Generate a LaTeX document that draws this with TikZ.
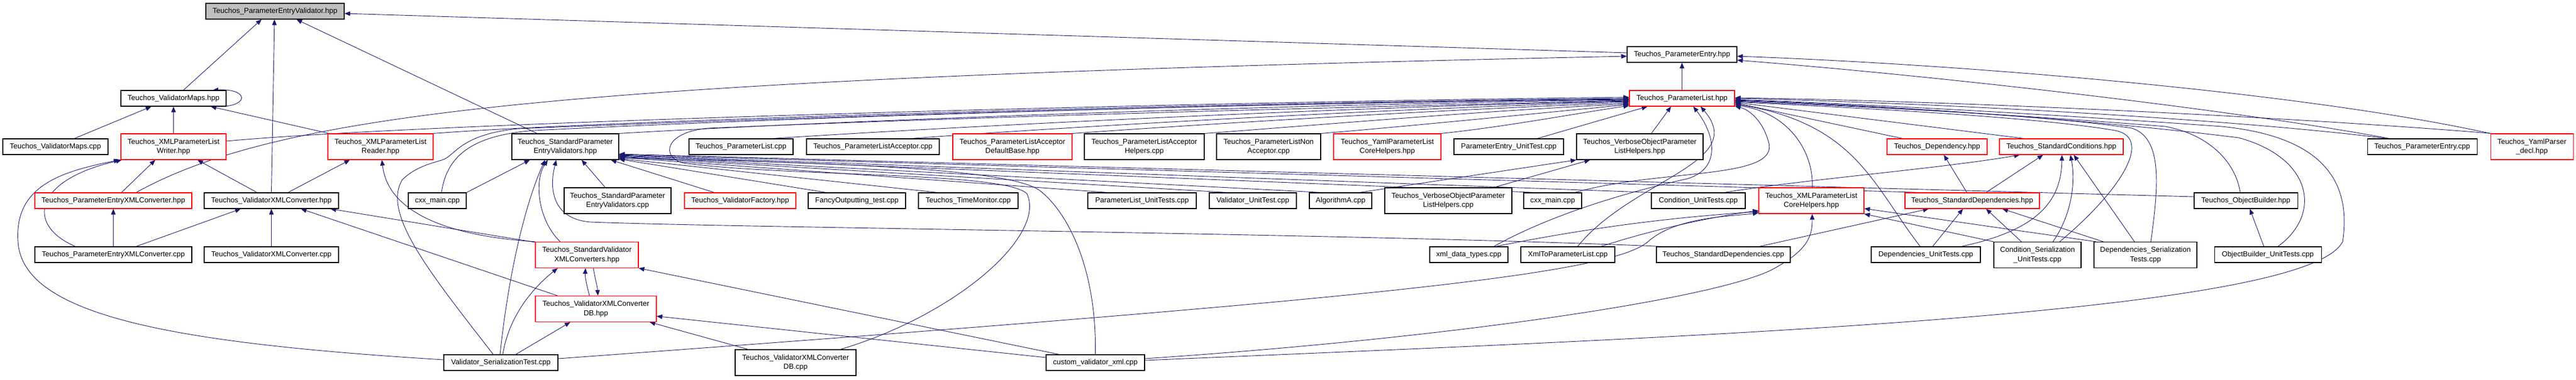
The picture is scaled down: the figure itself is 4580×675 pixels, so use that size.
\documentclass[tikz,border=0pt]{standalone}
\usepackage{fontspec}
\setmainfont{Liberation Sans}
\usetikzlibrary{arrows.meta}
\definecolor{edgecol}{HTML}{191970}
\definecolor{boxgrey}{HTML}{BFBFBF}
\pgfdeclarelayer{bg}
\pgfsetlayers{bg,main}
\begin{document}
\begin{tikzpicture}[x=1pt,y=-1pt,
  box/.style={draw=black, line width=1.1pt, fill=white, inner sep=0pt, align=center,
    font=\fontsize{13}{16.7}\selectfont, text=black},
  rbox/.style={box, draw=red},
  hone/.style={minimum height=28pt},
  htwo/.style={minimum height=46pt},
  wd/.style={minimum width=#1pt},
  dep/.style={draw=edgecol, line width=0.9pt, -{Triangle[length=10pt,width=8pt]}}]
\useasboundingbox (0,0) rectangle (4580,675);
% rank 0-2
\node[box, fill=boxgrey, wd=246, hone] (PEV) at (489,20) {Teuchos\_ParameterEntryValidator.hpp};
\node[box, wd=195, hone] (PEh) at (2990.5,97) {Teuchos\_ParameterEntry.hpp};
\node[box, wd=187, hone] (VMaps) at (308.5,175) {Teuchos\_ValidatorMaps.hpp};
\node[rbox, wd=187, hone] (PLh) at (2990.5,175) {Teuchos\_ParameterList.hpp};
% rank 3
\node[box, wd=187, hone] (VMcpp) at (98.5,261) {Teuchos\_ValidatorMaps.cpp};
\node[rbox, wd=187, htwo] (XWriter) at (308.5,261) {Teuchos\_XMLParameterList\\Writer.hpp};
\node[rbox, wd=187, htwo] (XReader) at (676.5,261) {Teuchos\_XMLParameterList\\Reader.hpp};
\node[box, wd=190, htwo] (SPEVh) at (1005,261) {Teuchos\_StandardParameter\\EntryValidators.hpp};
\node[box, wd=185, hone] (PLcpp) at (1317.5,261) {Teuchos\_ParameterList.cpp};
\node[box, wd=236, hone] (PLAcpp) at (1552,261) {Teuchos\_ParameterListAcceptor.cpp};
\node[rbox, wd=212, htwo] (PLADB) at (1800,261) {Teuchos\_ParameterListAcceptor\\DefaultBase.hpp};
\node[box, wd=213, htwo] (PLAH) at (2034.5,261) {Teuchos\_ParameterListAcceptor\\Helpers.cpp};
\node[box, wd=185, htwo] (PLNA) at (2255.5,261) {Teuchos\_ParameterListNon\\Acceptor.cpp};
\node[rbox, wd=191, htwo] (YPLCH) at (2466.5,261) {Teuchos\_YamlParameterList\\CoreHelpers.hpp};
\node[box, wd=195, hone] (PEUnit) at (2682.5,261) {ParameterEntry\_UnitTest.cpp};
\node[box, wd=225, htwo] (VOPLHh) at (2915.5,261) {Teuchos\_VerboseObjectParameter\\ListHelpers.hpp};
\node[rbox, wd=178, hone] (Dep) at (3444,261) {Teuchos\_Dependency.hpp};
\node[rbox, wd=220, hone] (StdCond) at (3665,261) {Teuchos\_StandardConditions.hpp};
\node[box, wd=195, hone] (PEcpp) at (4306.5,261) {Teuchos\_ParameterEntry.cpp};
\node[rbox, wd=147, htwo] (Yaml) at (4501.5,261) {Teuchos\_YamlParser\\\_decl.hpp};
% rank 4
\node[rbox, wd=279, hone] (PEXCh) at (201.5,357) {Teuchos\_ParameterEntryXMLConverter.hpp};
\node[box, wd=239, hone] (VXCh) at (482.5,357) {Teuchos\_ValidatorXMLConverter.hpp};
\node[box, wd=103, hone] (cxxA) at (777.5,357) {cxx\_main.cpp};
\node[box, wd=190, htwo] (SPEVcpp) at (1098,357) {Teuchos\_StandardParameter\\EntryValidators.cpp};
\node[rbox, wd=198, hone] (ValFac) at (1316,357) {Teuchos\_ValidatorFactory.hpp};
\node[box, wd=173, hone] (Fancy) at (1523.5,357) {FancyOutputting\_test.cpp};
\node[box, wd=177, hone] (TimeMon) at (1721.5,357) {Teuchos\_TimeMonitor.cpp};
\node[box, wd=193, hone] (PLUnit) at (2030.5,357) {ParameterList\_UnitTests.cpp};
\node[box, wd=155, hone] (ValUnit) at (2227.5,357) {Validator\_UnitTest.cpp};
\node[box, wd=111, hone] (AlgA) at (2383.5,357) {AlgorithmA.cpp};
\node[box, wd=226, htwo] (VOPLHcpp) at (2575,357) {Teuchos\_VerboseObjectParameter\\ListHelpers.cpp};
\node[box, wd=103, hone] (cxxB) at (2760.5,357) {cxx\_main.cpp};
\node[box, wd=167, hone] (CondUnit) at (3019.5,357) {Condition\_UnitTests.cpp};
\node[rbox, wd=187, htwo] (XMLPLCH) at (3220.5,357) {Teuchos\_XMLParameterList\\CoreHelpers.hpp};
\node[rbox, wd=239, hone] (StdDepsh) at (3506.5,357) {Teuchos\_StandardDependencies.hpp};
\node[box, wd=184, hone] (ObjBh) at (3993,357) {Teuchos\_ObjectBuilder.hpp};
% rank 5
\node[box, wd=279, hone] (PEXCcpp) at (201.5,453) {Teuchos\_ParameterEntryXMLConverter.cpp};
\node[box, wd=239, hone] (VXCcpp) at (482.5,453) {Teuchos\_ValidatorXMLConverter.cpp};
\node[rbox, wd=183, htwo] (SVXCh) at (1043.5,453.5) {Teuchos\_StandardValidator\\XMLConverters.hpp};
\node[box, wd=139, hone] (xmldt) at (2611.5,453) {xml\_data\_types.cpp};
\node[box, wd=167, hone] (XmlToPL) at (2787.5,453) {XmlToParameterList.cpp};
\node[box, wd=238, hone] (StdDepscpp) at (3064,453) {Teuchos\_StandardDependencies.cpp};
\node[box, wd=194, hone] (DepUnit) at (3424,453) {Dependencies\_UnitTests.cpp};
\node[box, wd=155, htwo] (CondSer) at (3622.5,453.5) {Condition\_Serialization\\\_UnitTests.cpp};
\node[box, wd=183, htwo] (DepSer) at (3814.5,453.5) {Dependencies\_Serialization\\Tests.cpp};
\node[box, wd=190, hone] (ObjBUnit) at (4032,453) {ObjectBuilder\_UnitTests.cpp};
% rank 6-7
\node[rbox, wd=215, htwo] (VXCDBh) at (1059.5,549.5) {Teuchos\_ValidatorXMLConverter\\DB.hpp};
\node[box, wd=203, hone] (VSerTest) at (890.5,645) {Validator\_SerializationTest.cpp};
\node[box, wd=215, htwo] (VXCDBcpp) at (1414.5,645) {Teuchos\_ValidatorXMLConverter\\DB.cpp};
\node[box, wd=175, hone] (custom) at (1947.5,645) {custom\_validator\_xml.cpp};

\begin{pgfonlayer}{bg}
\fill[white] (0,0) rectangle (4580,675);
% to PEV
\draw[dep] ([xshift=17.5pt]VMaps.north) -- ([xshift=-24pt]PEV.south);
\draw[dep] (VXCh.north) -- ([xshift=-1pt]PEV.south);
\draw[dep] ([xshift=-50pt]SPEVh.north) -- ([xshift=38pt]PEV.south);
\draw[dep] ([yshift=3pt]PEh.west) -- ([yshift=-4pt]PEV.east);
% to VMaps
\draw[dep] ([xshift=69.5pt]VMaps.south) .. controls (445,193) and (445,157) .. ([xshift=69.5pt]VMaps.north);
\draw[dep] ([xshift=33.5pt]VMcpp.north) -- ([xshift=-39.5pt]VMaps.south);
\draw[dep] (XWriter.north) -- (VMaps.south);
\draw[dep] ([xshift=-91pt]XReader.north) -- ([xshift=66pt]VMaps.south);
% to XWriter
\draw[dep] ([xshift=14.5pt]PEXCh.north) -- ([xshift=-32.5pt]XWriter.south);
\draw[dep] ([xshift=-25.5pt]VXCh.north) -- ([xshift=42.5pt]XWriter.south);
\draw[dep] ([xshift=-67.5pt]PEXCcpp.north) .. controls (45,400) and (60,320) .. ([xshift=2pt]XWriter.south west);
\draw[dep] ([yshift=5pt]VSerTest.west) .. controls (300,610) and (40,560) .. (32,430) .. controls (25,330) and (110,305) .. ([xshift=-2pt]XWriter.south west);
% to XReader
\draw[dep] ([xshift=29.5pt]VXCh.north) -- ([xshift=-54.5pt]XReader.south);
\draw[dep] (SVXCh.north west) .. controls (800,420) and (690,380) .. ([xshift=2.5pt]XReader.south);
% to PEXCh / VXCh
\draw[dep] (PEXCcpp.north) -- (PEXCh.south);
\draw[dep] ([xshift=40.5pt]PEXCcpp.north) -- ([xshift=-54.5pt]VXCh.south);
\draw[dep] (VXCcpp.north) -- (VXCh.south);
\draw[dep] ([xshift=-68.5pt]VXCDBh.north) -- ([xshift=52.5pt]VXCh.south);
\draw[dep] ([yshift=-1pt]SVXCh.north west) -- ([xshift=105pt]VXCh.south);
% to PEh
\draw[dep] ([xshift=40.5pt]PEXCh.north) .. controls (500,200) and (1000,140) .. ([yshift=-3pt]PEh.west);
\draw[dep] (Yaml.north west) .. controls (4100,165) and (3500,115) .. ([yshift=-3pt]PEh.east);
\draw[dep] ([xshift=-58pt]PEcpp.north) .. controls (4000,200) and (3500,140) .. ([yshift=-10pt]PEh.east);
\draw[dep] (PLh.north) -- (PEh.south);
% to PLh from the left
\draw[dep] ([yshift=10pt]XWriter.east) .. controls (800,215) and (2200,180) .. ([yshift=2pt]PLh.west);
\draw[dep] (XReader.north east) .. controls (1100,212) and (2300,180) .. (PLh.west);
\draw[dep] ([xshift=7.5pt]cxxA.north) .. controls (795,270) and (850,240) .. (950,232) .. controls (1500,205) and (2300,182) .. ([yshift=-1pt]PLh.west);
\draw[dep] ([xshift=-13.5pt]VSerTest.north) .. controls (760,480) and (680,380) .. (715,320) .. controls (735,300) and (760,292) .. (785,285) .. controls (810,278) and (815,240) .. (920,229) .. controls (1500,205) and (2300,182) .. ([yshift=-2pt]PLh.west);
\draw[dep] (SPEVh.north east) .. controls (1500,214) and (2300,185) .. ([yshift=-3pt]PLh.west);
\draw[dep] ([xshift=80pt]VXCDBcpp.north) .. controls (1700,560) and (1860,420) .. (1826,345) .. controls (1790,305) and (1400,315) .. (1215,290) .. controls (1175,280) and (1180,235) .. (1260,228) .. controls (1800,205) and (2500,188) .. ([yshift=-4pt]PLh.west);
\draw[dep] ([xshift=55pt]PLcpp.north) .. controls (1700,225) and (2400,190) .. ([yshift=-5pt]PLh.west);
\draw[dep] ([xshift=68pt]PLAcpp.north) .. controls (1900,225) and (2500,192) .. ([yshift=-6pt]PLh.west);
\draw[dep] (PLADB.north east) .. controls (2150,220) and (2600,193) .. ([yshift=-8pt]PLh.west);
\draw[dep] (PLAH.north east) .. controls (2350,222) and (2650,196) .. ([yshift=-10pt]PLh.west);
\draw[dep] (PLNA.north east) .. controls (2500,225) and (2750,200) .. ([yshift=-11pt]PLh.west);
\draw[dep] (YPLCH.north east) .. controls (2680,225) and (2800,202) .. ([yshift=-13pt]PLh.west);
% to PLh from below
\draw[dep] ([xshift=50.5pt]PEUnit.north) -- ([xshift=-61.5pt]PLh.south);
\draw[dep] ([xshift=20.5pt]VOPLHh.north) -- ([xshift=-19.5pt]PLh.south);
\draw[dep] ([xshift=44.5pt]xmldt.north) .. controls (2760,380) and (2900,340) .. (3000,318) .. controls (3060,300) and (3050,240) .. ([xshift=20pt]PLh.south);
\draw[dep] ([xshift=17.5pt]XmlToPL.north) .. controls (2900,320) and (3110,290) .. ([xshift=33pt]PLh.south);
% to PLh from the right
\draw[dep] ([xshift=-61pt]Dep.north) -- ([yshift=-8pt]PLh.east);
\draw[dep] ([xshift=-66pt]StdCond.north) -- ([yshift=-7pt]PLh.east);
\draw[dep] ([xshift=-62pt]PEcpp.north) .. controls (4000,215) and (3500,185) .. (PLh.east);
\draw[dep] ([xshift=3pt]Yaml.north west) .. controls (4100,210) and (3500,180) .. ([yshift=1pt]PLh.east);
\draw[dep] ([xshift=-10pt]DepUnit.north) .. controls (3330,330) and (3300,220) .. ([yshift=-10pt]PLh.east);
\draw[dep] ([xshift=1.5pt]XMLPLCH.north) .. controls (3225,270) and (3180,200) .. ([yshift=-12pt]PLh.east);
\draw[dep] ([xshift=39.5pt]cxxB.north) .. controls (2950,300) and (3160,320) .. (3145,255) .. controls (3135,215) and (3110,195) .. ([yshift=-14pt]PLh.east);
\draw[dep] ([xshift=39.5pt]CondSer.north) .. controls (3770,340) and (3830,245) .. (3760,232) .. controls (3600,205) and (3250,190) .. ([yshift=-6pt]PLh.east);
\draw[dep] ([xshift=9.5pt]DepSer.north) .. controls (3838,330) and (3845,245) .. (3790,228) .. controls (3600,200) and (3250,188) .. ([yshift=-5pt]PLh.east);
\draw[dep] ([xshift=-10pt]ObjBh.north) .. controls (3975,290) and (3930,240) .. (3850,225) .. controls (3600,205) and (3250,185) .. ([yshift=-4pt]PLh.east);
\draw[dep] ([xshift=18pt]ObjBUnit.north) .. controls (4130,380) and (4110,280) .. (3980,245) .. controls (3700,210) and (3300,185) .. ([yshift=-3pt]PLh.east);
\draw[dep] ([yshift=4pt]custom.east) .. controls (3000,600) and (4100,560) .. (4165,430) .. controls (4185,300) and (4100,240) .. (3950,225) .. controls (3600,200) and (3300,185) .. ([yshift=-2pt]PLh.east);
% to XMLPLCH
\draw[dep] ([yshift=7pt]VSerTest.east) .. controls (2400,535) and (2860,490) .. (2930,430) .. controls (2980,385) and (3080,385) .. ([yshift=2pt]XMLPLCH.south west);
\draw[dep] ([xshift=48pt]xmldt.north) .. controls (2800,410) and (2950,388) .. ([yshift=4pt]XMLPLCH.south west);
\draw[dep] ([xshift=59pt]XmlToPL.north) .. controls (2950,405) and (3050,385) .. ([yshift=6pt]XMLPLCH.south west);
\draw[dep] ([yshift=7pt]custom.east) .. controls (2600,600) and (3050,530) .. (3150,480) .. controls (3215,445) and (3222,420) .. ([xshift=1.5pt]XMLPLCH.south);
\draw[dep] (CondSer.north west) -- (XMLPLCH.south east);
\draw[dep] ([xshift=-88pt]DepSer.north) -- ([yshift=-14pt]XMLPLCH.east);
% to StdDepsh / Dep / StdCond
\draw[dep] ([xshift=64pt]StdDepscpp.north) -- ([xshift=-77.5pt]StdDepsh.south);
\draw[dep] ([xshift=12pt]DepUnit.north) -- ([xshift=-16.5pt]StdDepsh.south);
\draw[dep] ([xshift=-28.5pt]CondSer.north) -- ([xshift=24.5pt]StdDepsh.south);
\draw[dep] ([xshift=-75pt]DepSer.north) -- ([xshift=53.5pt]StdDepsh.south);
\draw[dep] ([xshift=-9.5pt]StdDepsh.north) -- ([xshift=12pt]Dep.south);
\draw[dep] ([xshift=24.5pt]StdDepsh.north) -- ([xshift=-32.5pt]StdCond.south);
\draw[dep] ([xshift=46.5pt]CondUnit.north) .. controls (3200,320) and (3450,300) .. ([xshift=-74pt]StdCond.south);
\draw[dep] ([xshift=63pt]DepUnit.north) .. controls (3620,410) and (3665,360) .. ([xshift=1pt]StdCond.south);
\draw[dep] ([xshift=27.5pt]CondSer.north) .. controls (3685,380) and (3690,320) .. ([xshift=16pt]StdCond.south);
\draw[dep] ([xshift=-19.5pt]DepSer.north) -- ([xshift=22pt]StdCond.south);
% ObjectBuilder, VerboseObject
\draw[dep] ([xshift=-7pt]ObjBUnit.north) -- ([xshift=7pt]ObjBh.south);
\draw[dep] ([xshift=33.5pt]AlgA.north) -- (VOPLHh.south west);
\draw[dep] ([xshift=81pt]VOPLHcpp.north) -- ([xshift=-88.5pt]VOPLHh.south);
% to SPEVh bottom
\draw[dep] (cxxA.north east) -- ([xshift=-63pt]SPEVh.south);
\draw[dep] ([xshift=-1.5pt]VSerTest.north) .. controls (905,480) and (935,360) .. ([xshift=-36pt]SPEVh.south);
\draw[dep] ([xshift=-47.5pt]SVXCh.north) .. controls (955,390) and (950,320) .. ([xshift=-31pt]SPEVh.south);
\draw[dep] ([xshift=10pt]StdDepscpp.north west) .. controls (2400,415) and (1300,405) .. (1050,395) .. controls (985,390) and (975,340) .. ([xshift=-16pt]SPEVh.south);
\draw[dep] ([xshift=-22pt]SPEVcpp.north) -- ([xshift=29pt]SPEVh.south);
\draw[dep] ([xshift=-46pt]ValFac.north) -- ([xshift=81pt]SPEVh.south);
% to SPEVh right
\draw[dep] ([xshift=-54.5pt]Fancy.north) -- ([yshift=-22pt]SPEVh.east);
\draw[dep] ([xshift=-54.5pt]TimeMon.north) -- ([yshift=-21pt]SPEVh.east);
\draw[dep] ([xshift=-60.5pt]PLUnit.north) -- ([yshift=-19pt]SPEVh.east);
\draw[dep] ([xshift=-45.5pt]ValUnit.north) -- ([yshift=-18pt]SPEVh.east);
\draw[dep] ([xshift=-33.5pt]AlgA.north) -- ([yshift=-17pt]SPEVh.east);
\draw[dep] ([xshift=-30.5pt]cxxB.north) -- ([yshift=-16pt]SPEVh.east);
\draw[dep] (CondUnit.north west) -- ([yshift=-15pt]SPEVh.east);
\draw[dep] ([xshift=-92.5pt]StdDepsh.north) -- ([yshift=-14pt]SPEVh.east);
\draw[dep] ([yshift=7pt]ObjBh.west) -- ([yshift=-13pt]SPEVh.east);
\draw[dep] (custom.north) .. controls (1950,480) and (1900,380) .. (1850,340) .. controls (1800,300) and (1500,290) .. ([yshift=-20pt]SPEVh.east);
% SVXCh / VXCDBh
\draw[dep] ([xshift=-11.5pt]VXCDBh.north) .. controls (1044,510) and (1040,495) .. ([xshift=-2.5pt]SVXCh.south);
\draw[dep] ([xshift=11.5pt]SVXCh.south) .. controls (1058,495) and (1062,510) .. ([xshift=3.5pt]VXCDBh.north);
\draw[dep] ([xshift=3.5pt]VSerTest.north) .. controls (905,560) and (950,510) .. ([xshift=-52pt]SVXCh.south);
\draw[dep] ([xshift=-64.5pt]custom.north) -- (SVXCh.south east);
\draw[dep] ([xshift=26.5pt]VSerTest.north) -- ([xshift=-45.5pt]VXCDBh.south);
\draw[dep] ([xshift=-84.5pt]VXCDBcpp.north) -- ([xshift=95.5pt]VXCDBh.south);
\draw[dep] ([yshift=9pt]custom.west) -- ([yshift=-13pt]VXCDBh.east);
\end{pgfonlayer}
\end{tikzpicture}
\end{document}
